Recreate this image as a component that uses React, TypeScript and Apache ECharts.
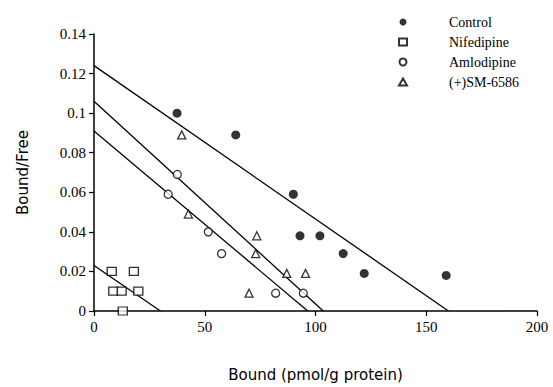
import React, { useEffect, useRef } from "react";
import * as echarts from "echarts";

const seriesNames = ["Control", "Nifedipine", "Amlodipine", "(+)SM-6586"];

const controlPoints = [
  [37.5, 0.1], [64, 0.089], [90, 0.059], [93, 0.038], [102, 0.038],
  [112.5, 0.029], [122, 0.019], [159, 0.018],
];
const nifedipinePoints = [
  [8, 0.02], [18, 0.02], [8.7, 0.01], [12.5, 0.01], [20, 0.01], [13, 0],
];
const amlodipinePoints = [
  [33.5, 0.059], [37.6, 0.069], [51.6, 0.04], [57.6, 0.029], [82, 0.009], [94.5, 0.009],
];
const smPoints = [
  [39.6, 0.089], [42.6, 0.049], [70, 0.009], [73, 0.029], [73.5, 0.038],
  [87, 0.019], [95.5, 0.019],
];

// regression lines: [y-intercept point, x-intercept point]
const controlLine = [[0, 0.124], [160, 0]];
const smLine = [[0, 0.106], [103.5, 0]];
const amlodipineLine = [[0, 0.091], [96.5, 0]];
const nifedipineLine = [[0, 0.023], [30, 0]];

const yTickLabels = ["0", "0.02", "0.04", "0.06", "0.08", "0.1", "0.12", "0.14"];
const xTickLabels = ["0", "50", "100", "150", "200"];

const FONT = "'Liberation Serif', 'DejaVu Serif', serif";
const SANS = "'DejaVu Sans', sans-serif";

export default function App() {
  const ref = useRef<HTMLDivElement>(null);
  useEffect(() => {
    if (!ref.current) return;
    const chart = echarts.init(ref.current, undefined, { renderer: "svg" });
    const openStyle = { color: "#fff", borderColor: "#000", borderWidth: 1.3 };
    const lineSeries = (data: number[][]) => ({
      type: "line",
      data,
      showSymbol: false,
      symbol: "none",
      lineStyle: { color: "#000", width: 1.3 },
      silent: true,
      z: 1,
    });
    chart.setOption({
      animation: false,
      backgroundColor: "#fff",
      grid: { left: 94, right: 16, top: 34, bottom: 74 },
      legend: {
        data: seriesNames,
        orient: "vertical",
        left: 393,
        top: 10,
        itemGap: 6,
        itemWidth: 8,
        itemHeight: 7,
        textStyle: { fontFamily: FONT, fontSize: 14, color: "#000", padding: [0, 0, 0, 37] },
      },
      xAxis: {
        type: "value",
        min: 0,
        max: 200,
        interval: 50,
        name: "Bound (pmol/g protein)",
        nameLocation: "middle",
        nameGap: 56,
        nameTextStyle: { fontFamily: SANS, fontSize: 15, color: "#000" },
        axisLine: { lineStyle: { color: "#000", width: 1.5 } },
        axisTick: { lineStyle: { color: "#000", width: 1.2 }, length: 5 },
        axisLabel: {
          fontFamily: FONT,
          fontSize: 15,
          color: "#000",
          margin: 8,
          formatter: (v: number) => xTickLabels[Math.round(v / 50)] ?? "",
        },
        splitLine: { show: false },
      },
      yAxis: {
        type: "value",
        min: 0,
        max: 0.14,
        interval: 0.02,
        name: "Bound/Free",
        nameLocation: "middle",
        nameGap: 64,
        nameRotate: 90,
        nameTextStyle: { fontFamily: SANS, fontSize: 15, color: "#000" },
        axisLine: { show: true, lineStyle: { color: "#000", width: 1.5 } },
        axisTick: { show: true, lineStyle: { color: "#000", width: 1.2 }, length: 5 },
        axisLabel: {
          fontFamily: FONT,
          fontSize: 15,
          color: "#000",
          margin: 8,
          formatter: (v: number) => yTickLabels[Math.round(v / 0.02)] ?? "",
        },
        splitLine: { show: false },
      },
      series: [
        lineSeries(controlLine),
        lineSeries(smLine),
        lineSeries(amlodipineLine),
        lineSeries(nifedipineLine),
        {
          name: seriesNames[0],
          type: "scatter",
          data: controlPoints,
          symbol: "circle",
          symbolSize: 9,
          itemStyle: { color: "#000" },
          z: 3,
        },
        {
          name: seriesNames[1],
          type: "scatter",
          data: nifedipinePoints,
          symbol: "rect",
          symbolSize: [9, 8],
          itemStyle: openStyle,
          z: 3,
        },
        {
          name: seriesNames[2],
          type: "scatter",
          data: amlodipinePoints,
          symbol: "circle",
          symbolSize: 8,
          itemStyle: openStyle,
          z: 3,
        },
        {
          name: seriesNames[3],
          type: "scatter",
          data: smPoints,
          symbol: "triangle",
          symbolSize: 8,
          itemStyle: openStyle,
          z: 3,
        },
      ],
    });
    return () => chart.dispose();
  }, []);
  return <div ref={ref} style={{ width: 553, height: 387, position: "absolute", left: 0, top: 0 }} />;
}
